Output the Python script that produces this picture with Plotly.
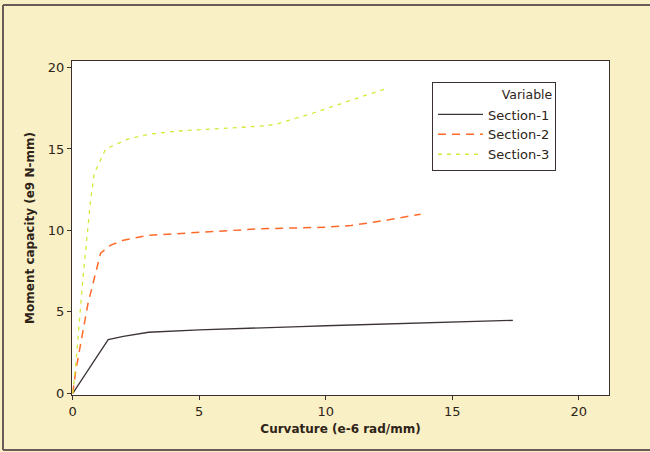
import plotly.graph_objects as go

# Data
s1_x = [0, 0.5, 1.0, 1.4, 2.0, 3.0, 5.0, 7.5, 9.0, 10.0, 12.5, 15.0, 16.5, 17.4]
s1_y = [0, 1.2, 2.4, 3.3, 3.5, 3.75, 3.9, 4.05, 4.1, 4.15, 4.25, 4.35, 4.4, 4.48]

s2_x = [0, 0.12, 0.6, 1.1, 1.5, 2.0, 3.0, 5.0, 7.4, 10.0, 11.0, 12.5, 13.75]
s2_y = [0, 1.4, 5.5, 8.6, 9.1, 9.4, 9.7, 9.9, 10.1, 10.2, 10.3, 10.65, 11.0]

s3_x = [0, 0.12, 0.4, 0.7, 0.85, 1.3, 2.17, 3.0, 4.15, 6.0, 7.4, 8.0, 9.5, 11.4, 12.4]
s3_y = [0, 1.8, 7.0, 11.8, 13.5, 15.0, 15.6, 15.9, 16.1, 16.25, 16.4, 16.5, 17.2, 18.2, 18.7]

x_ticks = [0, 5, 10, 15, 20]
y_ticks = [0, 5, 10, 15, 20]

font_fam = "DejaVu Sans, Verdana, sans-serif"
txt_col = "#2e2418"

fig = go.Figure()
fig.add_trace(go.Scatter(x=s1_x, y=s1_y, mode="lines", name="Section-1",
                         line=dict(color="#3d3535", width=1.3, dash="solid")))
fig.add_trace(go.Scatter(x=s2_x, y=s2_y, mode="lines", name="Section-2",
                         line=dict(color="#ff6a2a", width=1.5, dash="8px,6px")))
fig.add_trace(go.Scatter(x=s3_x, y=s3_y, mode="lines", name="Section-3",
                         line=dict(color="#d8e83a", width=1.3, dash="4px,5px")))

fig.update_layout(
    width=650, height=452,
    paper_bgcolor="#faf0c6",
    plot_bgcolor="white",
    margin=dict(l=72, r=41, t=61, b=57),
    font=dict(family=font_fam, color=txt_col, size=12),
    showlegend=True,
    legend=dict(
        title=dict(text="Variable", side="top right", font=dict(size=12.5)),
        x=0.670, y=0.937, xanchor="left", yanchor="top",
        bgcolor="white", bordercolor="#3a3030", borderwidth=1.2,
        font=dict(size=13), tracegroupgap=0, itemwidth=45,
    ),
    xaxis=dict(
        range=[-0.03, 21.2], tickvals=x_ticks, ticks="outside", ticklen=4,
        tickcolor="#3a3030", showgrid=False, zeroline=False,
        showline=True, linecolor="#3a3030", linewidth=1.2, mirror=True,
        tickfont=dict(size=13),
        title=dict(text="<b>Curvature (e-6 rad/mm)</b>", font=dict(size=12), standoff=6),
    ),
    yaxis=dict(
        range=[-0.1, 20.4], tickvals=y_ticks, ticks="outside", ticklen=4,
        tickcolor="#3a3030", showgrid=False, zeroline=False,
        showline=True, linecolor="#3a3030", linewidth=1.2, mirror=True,
        tickfont=dict(size=13),
        title=dict(text="<b>Moment capacity (e9 N-mm)</b>", font=dict(size=12), standoff=10),
    ),
)

# outer frame of the scanned page (left, top, bottom)
L, T, B, R = -0.1285, 1.1677, -0.1647, 1.08
for x0, y0, x1, y1 in [(L, B, L, T), (L, T, R, T), (L, B, R, B)]:
    fig.add_shape(type="line", xref="paper", yref="paper", x0=x0, y0=y0, x1=x1, y1=y1,
                  line=dict(color="#6a5a58", width=2))

fig.write_html("out.html", config={"displayModeBar": False},
               post_script="document.body.style.margin='0';document.body.style.background='#faf0c6';")
